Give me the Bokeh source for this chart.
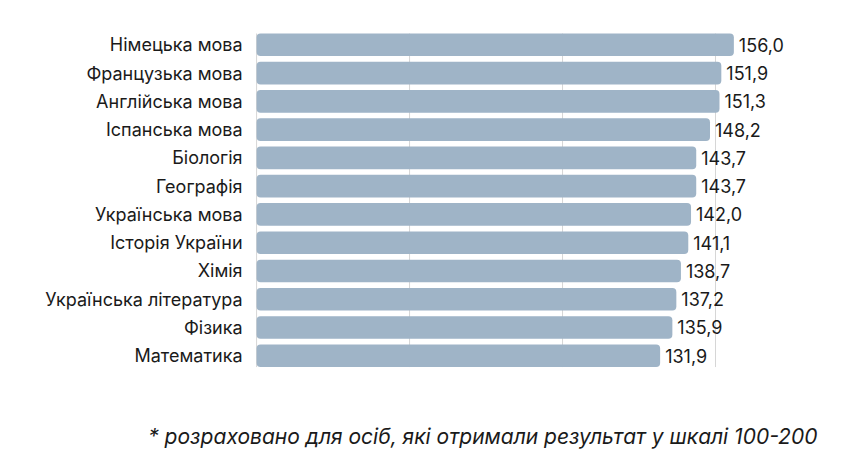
from bokeh.plotting import figure
from bokeh.embed import file_html
from bokeh.resources import INLINE
from bokeh.models import ColumnDataSource, Range1d, Label
from bokeh.core.properties import value

subjects = [
    "Німецька мова",
    "Французька мова",
    "Англійська мова",
    "Іспанська мова",
    "Біологія",
    "Географія",
    "Українська мова",
    "Історія України",
    "Хімія",
    "Українська література",
    "Фізика",
    "Математика",
]
scores = [156.0, 151.9, 151.3, 148.2, 143.7, 143.7, 142.0, 141.1, 138.7, 137.2, 135.9, 131.9]
grid_ticks = [0, 50, 100, 150]
footnote = "* розраховано для осіб, які отримали результат у шкалі 100-200"

FONT = "Inter"
BAR = "#9fb4c7"
TEXT = "#1a1a1a"
BAR_H = 0.8

n = len(subjects)
pos = [n - 1 - i for i in range(n)]
src = ColumnDataSource(data=dict(
    y=pos,
    score=scores,
    name=subjects,
    label=[f"{s:.1f}".replace(".", ",") for s in scores],
))

# the frame fills the whole canvas, so the category labels and the footnote
# can live inside it as text
p = figure(
    width=838, height=458,
    x_range=Range1d(-83.7, 190.2), y_range=Range1d(-3.634, 12.567),
    output_backend="svg", toolbar_location=None, tools="",
    min_border=0, outline_line_color=None,
)
p.axis.visible = False
p.grid.visible = False

grid_src = ColumnDataSource(data=dict(
    x=grid_ticks,
    y0=[-BAR_H / 2] * len(grid_ticks),
    y1=[n - 1 + BAR_H / 2] * len(grid_ticks),
))
p.segment(x0="x", y0="y0", x1="x", y1="y1", source=grid_src,
          line_color="#d6d6d6", line_width=1)

p.hbar(y="y", right="score", left=0, height=BAR_H, source=src,
       fill_color=BAR, line_color=None, border_radius=4)

p.text(x="score", y="y", text="label", source=src, x_offset=5,
       text_align="left", text_baseline="middle", text_color=TEXT,
       text_font=value(FONT), text_font_size="18px")
p.text(x=0, y="y", text="name", source=src, x_offset=-14,
       text_align="right", text_baseline="middle", text_color=TEXT,
       text_font=value(FONT), text_font_size="18px")

p.add_layout(Label(x=183.3, y=-2.86, text=footnote, text_align="right",
                   text_baseline="middle", text_font=FONT, text_font_size="21px",
                   text_font_style="italic", text_color=TEXT))

open("out.html", "w").write(file_html(p, INLINE))
